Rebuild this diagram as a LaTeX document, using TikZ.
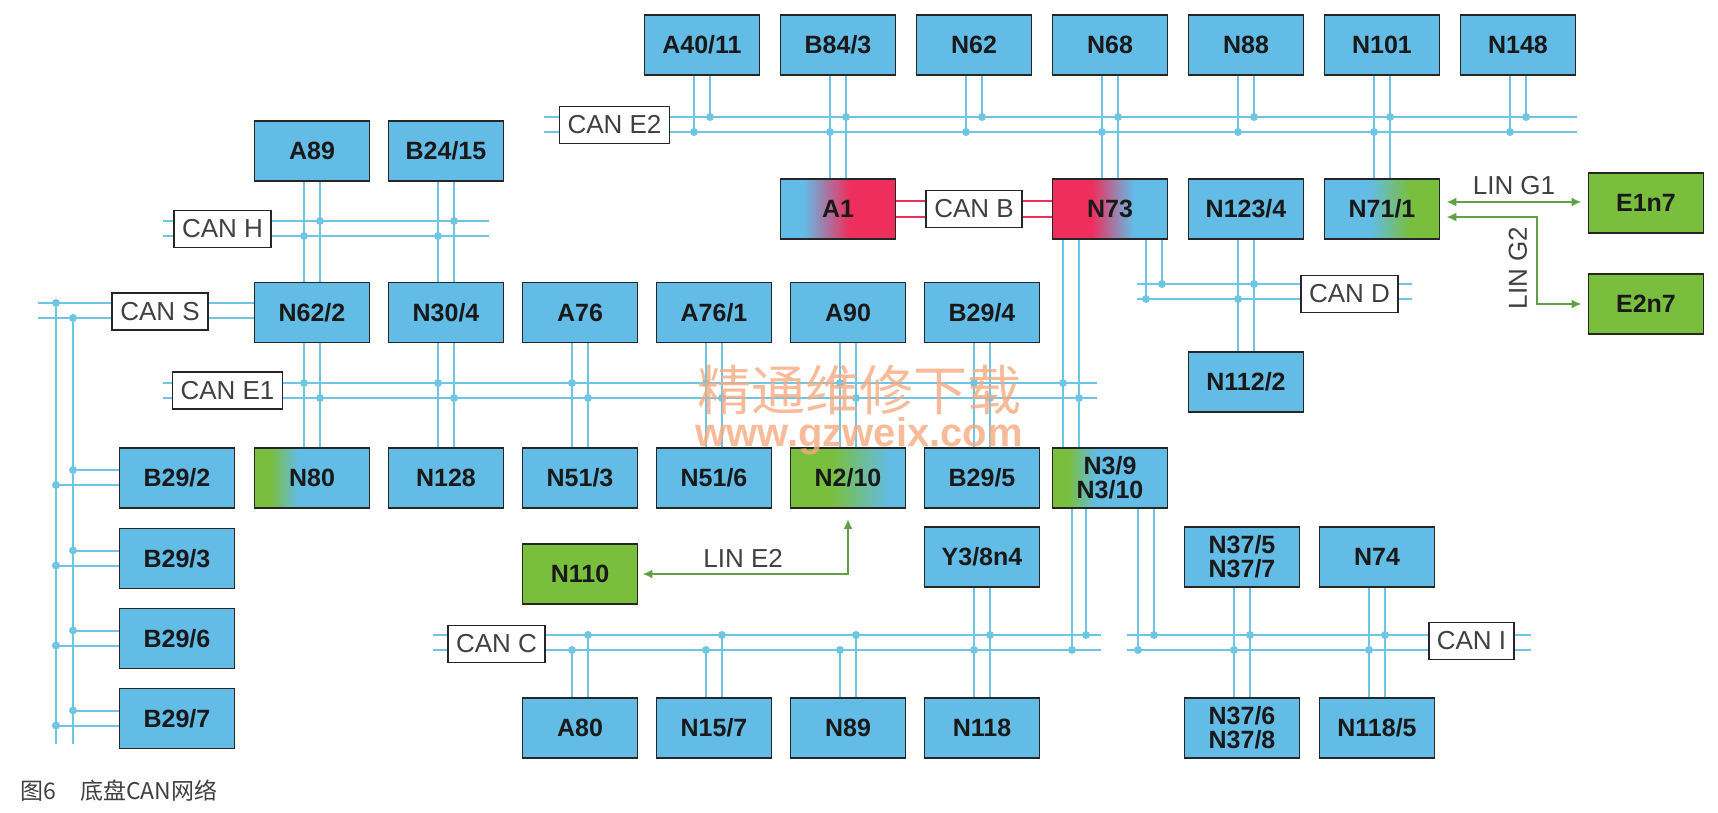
\documentclass[tikz,border=0pt]{standalone}
\usepackage{fontspec}
\setmainfont{Liberation Sans}
\newfontfamily\cjkfont{Noto Sans CJK SC}
\usetikzlibrary{arrows.meta,positioning,calc}

\definecolor{ecublue}{RGB}{98,188,230}
\definecolor{ecured}{RGB}{238,46,92}
\definecolor{ecugreen}{RGB}{122,190,62}
\definecolor{buscyan}{RGB}{110,198,228}
\definecolor{lingreen}{RGB}{96,160,70}
\definecolor{wmarkorange}{RGB}{246,170,128}

% mixed fills (25bp..75bp spans the box)
\pgfdeclarehorizontalshading{bluered}{100bp}{color(0bp)=(ecublue); color(35bp)=(ecublue); color(55bp)=(ecured); color(100bp)=(ecured)}
\pgfdeclarehorizontalshading{redblue}{100bp}{color(0bp)=(ecured); color(42bp)=(ecured); color(60bp)=(ecublue); color(100bp)=(ecublue)}
\pgfdeclarehorizontalshading{bluegreen}{100bp}{color(0bp)=(ecublue); color(45bp)=(ecublue); color(62bp)=(ecugreen); color(100bp)=(ecugreen)}
\pgfdeclarehorizontalshading{greenblue}{100bp}{color(0bp)=(ecugreen); color(32bp)=(ecugreen); color(44bp)=(ecublue); color(100bp)=(ecublue)}
\pgfdeclarehorizontalshading{greenbluewide}{100bp}{color(0bp)=(ecugreen); color(43bp)=(ecugreen); color(68bp)=(ecublue); color(100bp)=(ecublue)}

\tikzset{
  ecu/.style={draw=black!85, line width=0.9pt, fill=ecublue, minimum width=57.5pt, minimum height=30pt,
    inner sep=1pt, align=center, text=black!90, font=\bfseries\fontsize{12.5}{12}\selectfont},
  ecu green/.style={ecu, fill=ecugreen},
  busline/.style={draw=buscyan, line width=1pt},
  canbus/.style={draw=black!85, fill=white, line width=0.9pt, inner xsep=4pt, inner ysep=1pt,
    minimum height=18.5pt, text=black!75, font=\fontsize{13}{13}\selectfont},
  linline/.style={draw=lingreen, line width=1pt, {Latex[length=5pt,width=4.5pt]}-{Latex[length=5pt,width=4.5pt]}},
  linname/.style={text=black!75, inner sep=1pt, font=\fontsize{13}{13}\selectfont},
}

\begin{document}
\begin{tikzpicture}[x=0.5pt, y=-0.5pt]
    \useasboundingbox (0,0) rectangle (1718,813);

    % top row (CAN E2)
    \node[ecu] (a40-11) at (702,45) {A40/11};
    \node[ecu, right=9.6pt of a40-11] (b84-3) {B84/3};
    \node[ecu, right=9.6pt of b84-3] (n62) {N62};
    \node[ecu, right=9.6pt of n62] (n68) {N68};
    \node[ecu, right=9.6pt of n68] (n88) {N88};
    \node[ecu, right=9.6pt of n88] (n101) {N101};
    \node[ecu, right=9.6pt of n101] (n148) {N148};

    % gateway row
    \node[ecu, shading=bluered] (a1) at (838,209) {A1};
    \node[ecu, shading=redblue] (n73) at (1110,209) {N73};
    \node[ecu] (n123-4) at (1246,209) {N123/4};
    \node[ecu, shading=bluegreen] (n71-1) at (1382,209) {N71/1};
    \node[ecu green] (e1n7) at (1646,203) {E1n7};
    \node[ecu green] (e2n7) at (1646,304) {E2n7};
    \node[ecu] (n112-2) at (1246,382) {N112/2};

    % left block
    \node[ecu] (a89) at (312,151) {A89};
    \node[ecu] (b24-15) at (446,151) {B24/15};
    \node[ecu] (n62-2) at (312,312.5) {N62/2};
    \node[ecu] (n30-4) at (446,312.5) {N30/4};
    \node[ecu] (a76) at (580,312.5) {A76};
    \node[ecu] (a76-1) at (714,312.5) {A76/1};
    \node[ecu] (a90) at (848,312.5) {A90};
    \node[ecu] (b29-4) at (982,312.5) {B29/4};
    \node[ecu] (b29-2) at (177,478) {B29/2};
    \node[ecu, shading=greenblue] (n80) at (312,478) {N80};
    \node[ecu] (n128) at (446,478) {N128};
    \node[ecu] (n51-3) at (580,478) {N51/3};
    \node[ecu] (n51-6) at (714,478) {N51/6};
    \node[ecu, shading=greenbluewide] (n2-10) at (848,478) {N2/10};
    \node[ecu] (b29-5) at (982,478) {B29/5};
    \node[ecu, shading=greenblue] (n3-9) at (1110,478) {N3/9\\N3/10};
    \node[ecu] (b29-3) at (177,558.5) {B29/3};
    \node[ecu] (b29-6) at (177,638.5) {B29/6};
    \node[ecu] (b29-7) at (177,718.5) {B29/7};

    % bottom block
    \node[ecu green] (n110) at (580,574) {N110};
    \node[ecu] (y3-8n4) at (982,557) {Y3/8n4};
    \node[ecu] (n37-5) at (1242,557) {N37/5\\N37/7};
    \node[ecu] (n74) at (1377,557) {N74};
    \node[ecu] (a80) at (580,728) {A80};
    \node[ecu] (n15-7) at (714,728) {N15/7};
    \node[ecu] (n89) at (848,728) {N89};
    \node[ecu] (n118) at (982,728) {N118};
    \node[ecu] (n37-6) at (1242,728) {N37/6\\N37/8};
    \node[ecu] (n118-5) at (1377,728) {N118/5};

    % CAN E2
    \coordinate (e2w) at (544,117);
    \coordinate (e2e) at (1577,132);
    \draw[busline] (e2w) -- (e2w -| e2e) (e2w |- e2e) -- (e2e);
    \foreach \src in {a40-11,n62,n88,n148}{
        \draw[busline] ([xshift=4pt]\src.south) -- ([xshift=4pt]\src.south |- e2w);
        \draw[busline] ([xshift=-4pt]\src.south) -- ([xshift=-4pt]\src.south |- e2e);
        \fill[buscyan] ([xshift=4pt]\src.south |- e2w) circle (2pt) ([xshift=-4pt]\src.south |- e2e) circle (2pt);
    }
    \foreach \src/\dst in {b84-3/a1,n68/n73,n101/n71-1}{
        \draw[busline] ([xshift=4pt]\src.south) -- ([xshift=4pt]\dst.north);
        \draw[busline] ([xshift=-4pt]\src.south) -- ([xshift=-4pt]\dst.north);
        \fill[buscyan] ([xshift=4pt]\src.south |- e2w) circle (2pt) ([xshift=-4pt]\src.south |- e2e) circle (2pt);
    }
    \node[canbus] (cane2) at (614.5,125) {CAN E2};

    % CAN B
    \draw[ecured, line width=1pt] ([yshift=4pt]a1.east) -- ([yshift=4pt]a1.east -| n73.west)
        ([yshift=-4pt]a1.east) -- ([yshift=-4pt]a1.east -| n73.west);
    \node[canbus] (canb) at ($(a1.east)!0.5!(n73.west)$) {CAN B};

    % CAN H
    \coordinate (hw) at (163,221);
    \coordinate (he) at (489,236);
    \draw[busline] (hw) -- (hw -| he) (hw |- he) -- (he);
    \foreach \src/\dst in {a89/n62-2,b24-15/n30-4}{
        \draw[busline] ([xshift=4pt]\src.south) -- ([xshift=4pt]\dst.north);
        \draw[busline] ([xshift=-4pt]\src.south) -- ([xshift=-4pt]\dst.north);
        \fill[buscyan] ([xshift=4pt]\src.south |- hw) circle (2pt) ([xshift=-4pt]\src.south |- he) circle (2pt);
    }
    \node[canbus] (canh) at (222.5,229) {CAN H};

    % CAN S
    \coordinate (s-up) at (38,303);
    \coordinate (s-lo) at (38,318);
    \coordinate (s-rail1) at (56,744);
    \coordinate (s-rail2) at (73,744);
    \draw[busline] (s-up) -- (s-up -| n62-2.west) (s-lo) -- (s-lo -| n62-2.west);
    \draw[busline] (s-rail1 |- s-up) -- (s-rail1) (s-rail2 |- s-lo) -- (s-rail2);
    \fill[buscyan] (s-rail1 |- s-up) circle (2pt) (s-rail2 |- s-lo) circle (2pt);
    \foreach \dst in {b29-2,b29-3,b29-6,b29-7}{
        \draw[busline] ([yshift=4pt]\dst.west) -- ([yshift=4pt]\dst.west -| s-rail2);
        \draw[busline] ([yshift=-3.5pt]\dst.west) -- ([yshift=-3.5pt]\dst.west -| s-rail1);
        \fill[buscyan] ([yshift=4pt]\dst.west -| s-rail2) circle (2pt) ([yshift=-3.5pt]\dst.west -| s-rail1) circle (2pt);
    }
    \node[canbus] (cans) at (160,311.5) {CAN S};

    % CAN E1
    \coordinate (e1w) at (163,383);
    \coordinate (e1e) at (1097,398);
    \draw[busline] (e1w) -- (e1w -| e1e) (e1w |- e1e) -- (e1e);
    \foreach \src/\dst in {n62-2/n80,n30-4/n128,a76/n51-3,a76-1/n51-6,a90/n2-10,b29-4/b29-5}{
        \draw[busline] ([xshift=-4pt]\src.south) -- ([xshift=-4pt]\dst.north);
        \draw[busline] ([xshift=4pt]\src.south) -- ([xshift=4pt]\dst.north);
        \fill[buscyan] ([xshift=-4pt]\src.south |- e1w) circle (2pt) ([xshift=4pt]\src.south |- e1e) circle (2pt);
    }
    \draw[busline] ([xshift=-23.5pt]n73.south) -- ([xshift=-23.5pt]n3-9.north);
    \draw[busline] ([xshift=-15.5pt]n73.south) -- ([xshift=-15.5pt]n3-9.north);
    \fill[buscyan] ([xshift=-23.5pt]n73.south |- e1w) circle (2pt) ([xshift=-15.5pt]n73.south |- e1e) circle (2pt);
    \node[canbus] (cane1) at (227.5,390.5) {CAN E1};

    % CAN D
    \coordinate (dw) at (1137,284);
    \coordinate (de) at (1412,299);
    \draw[busline] (dw) -- (dw -| de) (dw |- de) -- (de);
    \draw[busline] ([xshift=26pt]n73.south) -- ([xshift=26pt]n73.south |- dw);
    \draw[busline] ([xshift=18pt]n73.south) -- ([xshift=18pt]n73.south |- de);
    \fill[buscyan] ([xshift=26pt]n73.south |- dw) circle (2pt) ([xshift=18pt]n73.south |- de) circle (2pt);
    \draw[busline] ([xshift=4pt]n123-4.south) -- ([xshift=4pt]n112-2.north);
    \draw[busline] ([xshift=-4pt]n123-4.south) -- ([xshift=-4pt]n112-2.north);
    \fill[buscyan] ([xshift=4pt]n123-4.south |- dw) circle (2pt) ([xshift=-4pt]n123-4.south |- de) circle (2pt);
    \node[canbus] (cand) at (1349.5,294) {CAN D};

    % CAN C
    \coordinate (cw) at (433,635);
    \coordinate (ce) at (1101,650);
    \draw[busline] (cw) -- (cw -| ce) (cw |- ce) -- (ce);
    \foreach \dst in {a80,n15-7,n89}{
        \draw[busline] ([xshift=4pt]\dst.north) -- ([xshift=4pt]\dst.north |- cw);
        \draw[busline] ([xshift=-4pt]\dst.north) -- ([xshift=-4pt]\dst.north |- ce);
        \fill[buscyan] ([xshift=4pt]\dst.north |- cw) circle (2pt) ([xshift=-4pt]\dst.north |- ce) circle (2pt);
    }
    \draw[busline] ([xshift=4pt]y3-8n4.south) -- ([xshift=4pt]n118.north);
    \draw[busline] ([xshift=-4pt]y3-8n4.south) -- ([xshift=-4pt]n118.north);
    \fill[buscyan] ([xshift=4pt]y3-8n4.south |- cw) circle (2pt) ([xshift=-4pt]y3-8n4.south |- ce) circle (2pt);
    \draw[busline] ([xshift=-12pt]n3-9.south) -- ([xshift=-12pt]n3-9.south |- cw);
    \draw[busline] ([xshift=-19pt]n3-9.south) -- ([xshift=-19pt]n3-9.south |- ce);
    \fill[buscyan] ([xshift=-12pt]n3-9.south |- cw) circle (2pt) ([xshift=-19pt]n3-9.south |- ce) circle (2pt);
    \node[canbus] (canc) at (496.5,644) {CAN C};

    % CAN I
    \coordinate (iw) at (1127,635);
    \coordinate (ie) at (1531,650);
    \draw[busline] (iw) -- (iw -| ie) (iw |- ie) -- (ie);
    \draw[busline] ([xshift=22pt]n3-9.south) -- ([xshift=22pt]n3-9.south |- iw);
    \draw[busline] ([xshift=14pt]n3-9.south) -- ([xshift=14pt]n3-9.south |- ie);
    \fill[buscyan] ([xshift=22pt]n3-9.south |- iw) circle (2pt) ([xshift=14pt]n3-9.south |- ie) circle (2pt);
    \foreach \src/\dst in {n37-5/n37-6,n74/n118-5}{
        \draw[busline] ([xshift=4pt]\src.south) -- ([xshift=4pt]\dst.north);
        \draw[busline] ([xshift=-4pt]\src.south) -- ([xshift=-4pt]\dst.north);
        \fill[buscyan] ([xshift=4pt]\src.south |- iw) circle (2pt) ([xshift=-4pt]\src.south |- ie) circle (2pt);
    }
    \node[canbus] (cani) at (1471.5,641) {CAN I};

    % LIN
    \coordinate (g2bend) at (1537,260);
    \draw[linline, shorten <=3pt, shorten >=3pt] ([yshift=3.5pt]n71-1.east) -- ([yshift=3.5pt]n71-1.east -| e1n7.west)
        node[linname, midway, above=2pt] (ling1) {LIN G1};
    \draw[linline, shorten <=3pt, shorten >=3pt] ([yshift=-4pt]n71-1.east) -| (g2bend) |- (e2n7.west);
    \node[linname, rotate=90] (ling2) at (1518,268) {LIN G2};
    \draw[linline, shorten <=5pt, shorten >=2pt] (n2-10.south) |- (n110.east)
        node[linname, pos=0.75, above=2pt] (line2) {LIN E2};

    % caption and watermark
    \node[anchor=west, inner sep=0pt, text=black!75, font=\cjkfont\fontsize{11.5}{11.5}\selectfont] (caption) at (20,791) {图6\hspace{12pt}底盘CAN网络};
    \node[text=wmarkorange, opacity=0.8, font=\cjkfont\fontsize{27}{27}\selectfont] (wm-cn) at (859,390) {精通维修下载};
    \node[text=wmarkorange, opacity=0.8, font=\bfseries\fontsize{20}{20}\selectfont] (wm-url) at (859,436) {www.gzweix.com};
\end{tikzpicture}
\end{document}
